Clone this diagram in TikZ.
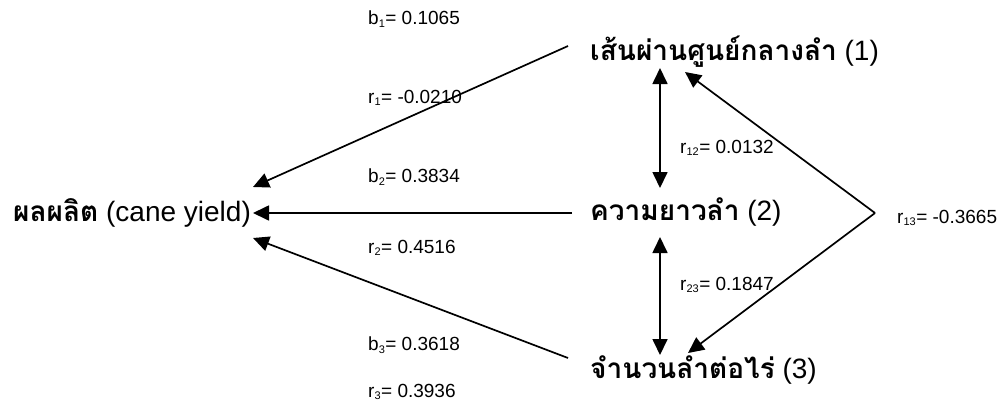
\documentclass[tikz,border=0pt]{standalone}
\usepackage{fontspec}
\setmainfont{Liberation Sans}
\newfontfamily\thaifont[Script=Thai]{Loma}
\usetikzlibrary{arrows.meta}
\tikzset{
  big/.style={inner sep=0pt, anchor=west, font=\fontsize{28}{32}\selectfont},
  lab/.style={inner sep=0pt, anchor=west, font=\fontsize{19}{22}\selectfont},
  tip/.tip={Triangle[length=16pt,width=15pt]},
  conn/.style={line width=1.7pt, -tip},
  dconn/.style={line width=1.7pt, tip-tip},
}
\newcommand{\thtxt}[1]{{\thaifont\bfseries #1}}
\newcommand{\sbs}[1]{\textsubscript{\fontsize{11}{12}\selectfont #1}}
\begin{document}
\begin{tikzpicture}[x=1pt,y=-1pt]
\useasboundingbox (0,0) rectangle (1008,407);
% nodes
\node[big] (yield) at (13,213) {\thtxt{ผลผลิต} (cane yield)};
\node[big] (n1) at (590,52) {\thtxt{เส้นผ่านศูนย์กลางลำ} (1)};
\node[big] (n2) at (590,212) {\thtxt{ความยาวลำ} (2)};
\node[big] (n3) at (590,370) {\thtxt{จำนวนลำต่อไร่} (3)};
% endpoints
\coordinate (s1) at (568,46);
\coordinate (s2) at (572,213);
\coordinate (s3) at (568,358);
\coordinate (e1) at (253,187);
\coordinate (e2) at (253,213);
\coordinate (e3) at (253,238);
\coordinate (a12) at (660,68);
\coordinate (b12) at (660,188);
\coordinate (a23) at (660,237);
\coordinate (b23) at (660,355);
\coordinate (v13) at (875,213);
\coordinate (t1) at (685,72);
\coordinate (t3) at (688,353);
% connectors
\draw[conn] (s1) -- (e1);
\draw[conn] (s2) -- (e2);
\draw[conn] (s3) -- (e3);
\draw[dconn] (a12) -- (b12);
\draw[dconn] (a23) -- (b23);
\draw[conn] (v13) -- (t1);
\draw[conn] (v13) -- (t3);
% labels
\node[lab] (lb1) at (368,19) {b\sbs{1}= 0.1065};
\node[lab] (lr1) at (368,98) {r\sbs{1}= -0.0210};
\node[lab] (lb2) at (368,177) {b\sbs{2}= 0.3834};
\node[lab] (lr2) at (368,248) {r\sbs{2}= 0.4516};
\node[lab] (lb3) at (368,345) {b\sbs{3}= 0.3618};
\node[lab] (lr3) at (368,392) {r\sbs{3}= 0.3936};
\node[lab] (lr12) at (680,148) {r\sbs{12}= 0.0132};
\node[lab] (lr23) at (680,285) {r\sbs{23}= 0.1847};
\node[lab] (lr13) at (897,218) {r\sbs{13}= -0.3665};
\end{tikzpicture}
\end{document}
